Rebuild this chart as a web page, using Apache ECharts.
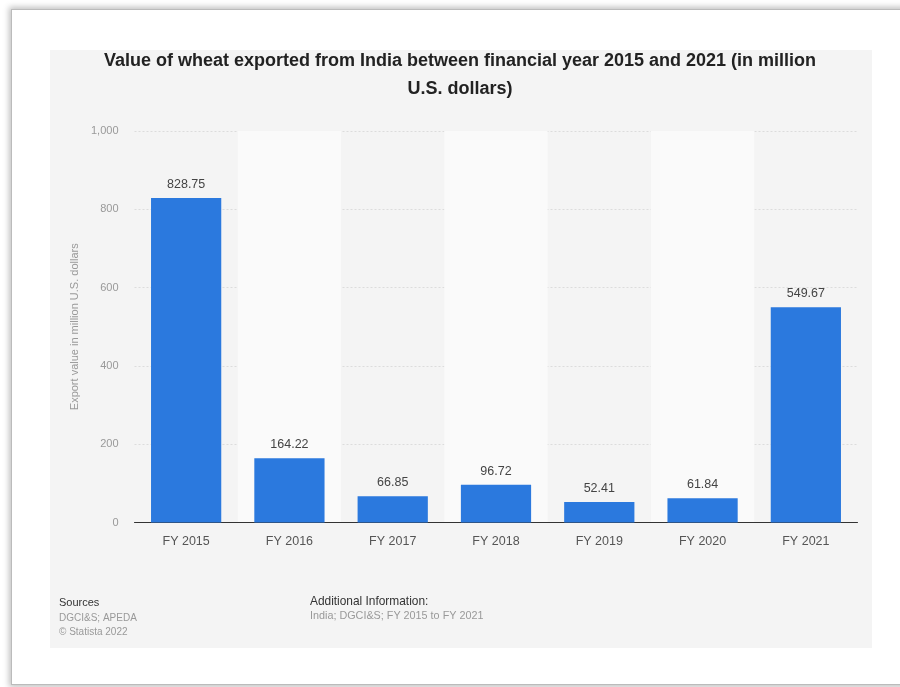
<!DOCTYPE html>
<html>
<head>
<meta charset="utf-8">
<script src="https://cdn.jsdelivr.net/npm/echarts@6/dist/echarts.min.js"></script>
<style>
html,body{margin:0;padding:0;background:#fff;width:900px;height:687px;overflow:hidden;}
#frame{position:absolute;left:11px;top:9px;width:900px;height:674px;border:1px solid #bbb;box-shadow:0 0 6px 2px rgba(0,0,0,0.25);background:#fff;}
#panel{position:absolute;left:50px;top:50px;width:822px;height:598px;background:#f4f4f4;}
#chart{position:absolute;left:0;top:0;width:900px;height:687px;}
</style>
</head>
<body>
<div id="frame"></div>
<div id="panel"></div>
<div id="chart"></div>
<script>
var categories = ['FY 2015','FY 2016','FY 2017','FY 2018','FY 2019','FY 2020','FY 2021'];
var values = [828.75, 164.22, 66.85, 96.72, 52.41, 61.84, 549.67];
var yTicks = [0, 200, 400, 600, 800, 1000];

var chart = echarts.init(document.getElementById('chart'), null, {renderer:'canvas'});
var font = 'Liberation Sans, Arial, sans-serif';
chart.setOption({
  backgroundColor: 'transparent',
  animation: false,
  title: {
    text: 'Value of wheat exported from India between financial year 2015 and 2021 (in million\nU.S. dollars)',
    left: 455, top: 42, textAlign: 'center',
    textStyle: {fontFamily: font, fontSize: 18, fontWeight: 'bold', color: '#222', lineHeight: 28}
  },
  grid: {left: 134.5, right: 42.5, top: 131, bottom: 164.5},
  xAxis: {
    type: 'category', data: categories,
    axisLine: {lineStyle: {color: '#333', width: 1}},
    axisTick: {show: false},
    axisLabel: {color: '#555', fontFamily: font, fontSize: 12.5, margin: 13},
    splitArea: {show: true, areaStyle: {color: ['rgba(0,0,0,0)', '#fafafa']}}
  },
  yAxis: {
    type: 'value', min: yTicks[0], max: yTicks[yTicks.length-1], interval: 200,
    name: 'Export value in million U.S. dollars', nameLocation: 'middle', nameGap: 34,
    nameTextStyle: {color: '#999', fontFamily: font, fontSize: 11},
    axisLine: {show: false}, axisTick: {show: false},
    axisLabel: {color: '#999', fontFamily: font, fontSize: 11, margin: 16, align: 'right',
      formatter: function(v){ return v.toLocaleString('en-US'); }},
    splitLine: {lineStyle: {color: '#dcdcdc', type: [2,2]}}
  },
  series: [{
    type: 'bar', data: values, barCategoryGap: '32%',
    itemStyle: {color: '#2b79de'},
    label: {show: true, position: 'top', distance: 7, color: '#444', fontFamily: font, fontSize: 12.5,
      formatter: function(p){ return p.value.toFixed(2); }}
  }],
  graphic: [
    {type:'text', left: 59, top: 597, style:{text:'Sources', fill:'#333', font:'11px '+font}},
    {type:'text', left: 59, top: 611, style:{text:'DGCI&S; APEDA\n© Statista 2022', fill:'#999', font:'10px '+font, lineHeight: 14}},
    {type:'text', left: 310, top: 596, style:{text:'Additional Information:', fill:'#333', font:'11.9px '+font}},
    {type:'text', left: 310, top: 611, style:{text:'India; DGCI&S; FY 2015 to FY 2021', fill:'#999', font:'10.8px '+font}}
  ]
});
</script>
</body>
</html>
